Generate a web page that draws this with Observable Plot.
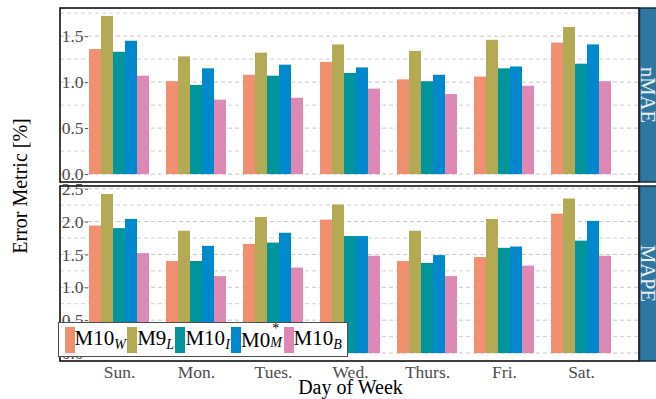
<!DOCTYPE html>
<html>
<head>
<meta charset="utf-8">
<script src="https://cdn.jsdelivr.net/npm/d3@7"></script>
<script src="https://cdn.jsdelivr.net/npm/@observablehq/plot@0.6"></script>
<style>
  body { margin: 0; background: #fff; }
  #chart { position: relative; width: 656px; height: 399px; font-family: "Liberation Serif", "Times New Roman", serif; overflow: hidden; }
  #chart svg { display: block; }
  .ylab { position: absolute; left: 19.5px; top: 185.5px; transform: translate(-50%, -50%) rotate(-90deg);
          font-size: 20px; line-height: 1; white-space: nowrap; color: #000; }
  .legend { position: absolute; left: 58px; top: 322px; width: 290px; height: 35px; box-sizing: border-box;
            border: 1.5px solid #4d4d4d; background: #fff; display: flex; align-items: center; padding-left: 5.5px; }
  .key { width: 10px; height: 26px; flex: none; }
  .lab { font-size: 21px; line-height: 1; white-space: nowrap; margin-right: 1.3px; position: relative; top: -1px; }
  .lab sub { font-size: 14px; font-style: italic; vertical-align: -4px; line-height: 0; }
  .ss { display: inline-block; position: relative; width: 12px; height: 1em; vertical-align: baseline; }
  .ss .sp { position: absolute; left: 2px; top: -4px; font-size: 14px; }
  .ss .sb { position: absolute; left: 0; top: 10px; font-size: 14px; font-style: italic; }
</style>
</head>
<body>
<div id="chart"></div>
<script>
// Days of the week on the x axis
const days = ["Sun.", "Mon.", "Tues.", "Wed.", "Thurs.", "Fri.", "Sat."];

// Model keys and their fill colours
const models = ["M10_W", "M9_L", "M10_I", "M0*_M", "M10_B"];
const colors = ["#EF9170", "#B4AA56", "#00959A", "#0088CD", "#DE89B5"];

// nMAE [%] per model, Sun. .. Sat.
const nmaeM10W = [1.36, 1.01, 1.08, 1.22, 1.03, 1.06, 1.43];
const nmaeM9L  = [1.72, 1.28, 1.32, 1.41, 1.34, 1.46, 1.60];
const nmaeM10I = [1.33, 0.97, 1.07, 1.10, 1.01, 1.15, 1.20];
const nmaeM0M  = [1.45, 1.15, 1.19, 1.16, 1.08, 1.17, 1.41];
const nmaeM10B = [1.07, 0.81, 0.83, 0.93, 0.87, 0.96, 1.01];

// MAPE [%] per model, Sun. .. Sat.
const mapeM10W = [1.94, 1.40, 1.66, 2.03, 1.40, 1.46, 2.12];
const mapeM9L  = [2.42, 1.86, 2.07, 2.26, 1.86, 2.04, 2.35];
const mapeM10I = [1.90, 1.40, 1.68, 1.78, 1.37, 1.60, 1.71];
const mapeM0M  = [2.04, 1.63, 1.83, 1.78, 1.49, 1.62, 2.01];
const mapeM10B = [1.52, 1.17, 1.30, 1.48, 1.17, 1.33, 1.48];

// Axis ticks and the minor grid between them
const nmaeTicks = [0, 0.5, 1.0, 1.5];
const nmaeMinor = [0.25, 0.75, 1.25, 1.75];
const mapeTicks = [0, 0.5, 1.0, 1.5, 2.0, 2.5];
const mapeMinor = [0.25, 0.75, 1.25, 1.75, 2.25];

const W = 656, ML = 60, MR = 17;
const FONT = '"Liberation Serif", "Times New Roman", serif';

function panel({series, ticks, minor, strip, height, marginTop, marginBottom, bottomAxis}) {
  const data = [];
  models.forEach((m, i) => days.forEach((d, j) => data.push({day: d, model: m, value: series[i][j]})));
  const ymax = d3.max(data, d => d.value);
  const pad = 0.05 * ymax;

  const marks = [
    Plot.barY(data, {fx: "day", x: "model", y: "value", fill: "model"}),
    Plot.axisY(ticks, {tickFormat: d3.format(".1f"), tickSize: 3, tickPadding: 2, color: "#4d4d4d",
                       label: null, fontFamily: FONT})
  ];
  if (bottomAxis) {
    marks.push(Plot.axisFx({anchor: "bottom", tickSize: 0, tickPadding: 4, color: "#4d4d4d", label: null,
                            fontFamily: FONT}));
    marks.push(Plot.text(["Day of Week"], {text: d => d, facet: "super", frameAnchor: "bottom", dy: 32,
                                            fontSize: 20, fill: "#000", fontFamily: FONT}));
  }

  const svg = Plot.plot({
    width: W, height, marginLeft: ML, marginRight: MR, marginTop, marginBottom,
    style: {fontFamily: FONT, fontSize: "17.5px", background: "#fff", overflow: "visible"},
    fx: {domain: days, paddingInner: 0.2, paddingOuter: 0.345, axis: null, label: null},
    x: {domain: models, padding: 0, axis: null},
    y: {domain: [-pad, ymax + pad], axis: null},
    color: {domain: models, range: colors},
    marks
  });

  const ph = height - marginTop - marginBottom;

  // dashed grid across the whole panel, placed with the plot's own y scale
  const y = svg.scale("y");
  const grid = d3.create("svg:g").attr("stroke-dasharray", "4,3").attr("stroke-width", 1);
  grid.selectAll("line.minor").data(minor).join("line").attr("class", "minor")
    .attr("x1", ML).attr("x2", W - MR).attr("y1", d => y.apply(d)).attr("y2", d => y.apply(d))
    .attr("stroke", "#d2d2d2");
  grid.selectAll("line.major").data(ticks).join("line").attr("class", "major")
    .attr("x1", ML).attr("x2", W - MR).attr("y1", d => y.apply(d)).attr("y2", d => y.apply(d))
    .attr("stroke", "#c8c8c8");
  svg.insertBefore(grid.node(), svg.querySelector("g"));

  const s = d3.select(svg);
  // panel border
  s.append("rect").attr("x", ML).attr("y", marginTop).attr("width", W - ML - MR).attr("height", ph)
    .attr("fill", "none").attr("stroke", "#000").attr("stroke-width", 1.5);

  // facet strip on the right-hand side
  s.append("rect").attr("x", W - MR + 0.5).attr("y", marginTop).attr("width", MR + 2).attr("height", ph)
    .attr("fill", "#2E77A0").attr("stroke", "#1A2B3A").attr("stroke-width", 1.5);
  s.append("text")
    .attr("transform", `translate(${W - MR + 2},${marginTop + ph / 2}) rotate(90)`)
    .attr("text-anchor", "middle").attr("fill", "#EDEDED").attr("font-size", 20.5)
    .attr("font-family", FONT).text(strip);
  return svg;
}

const chart = document.getElementById("chart");
chart.append(panel({
  series: [nmaeM10W, nmaeM9L, nmaeM10I, nmaeM0M, nmaeM10B],
  ticks: nmaeTicks, minor: nmaeMinor, strip: "nMAE",
  height: 184, marginTop: 8, marginBottom: 2, bottomAxis: false
}));
chart.append(panel({
  series: [mapeM10W, mapeM9L, mapeM10I, mapeM0M, mapeM10B],
  ticks: mapeTicks, minor: mapeMinor, strip: "MAPE",
  height: 215, marginTop: 2, marginBottom: 38, bottomAxis: true
}));

// shared y-axis title
const ylab = document.createElement("div");
ylab.className = "ylab";
ylab.textContent = "Error Metric [%]";
chart.append(ylab);

// legend
const legendLabels = [
  'M10<sub>W</sub>',
  'M9<sub>L</sub>',
  'M10<sub>I</sub>',
  'M0<span class="ss"><span class="sp">*</span><span class="sb">M</span></span>',
  'M10<sub>B</sub>'
];
const legend = document.createElement("div");
legend.className = "legend";
models.forEach((m, i) => {
  const k = document.createElement("span");
  k.className = "key";
  k.style.background = colors[i];
  const t = document.createElement("span");
  t.className = "lab";
  t.innerHTML = legendLabels[i];
  legend.append(k, t);
});
chart.append(legend);
</script>
</body>
</html>
